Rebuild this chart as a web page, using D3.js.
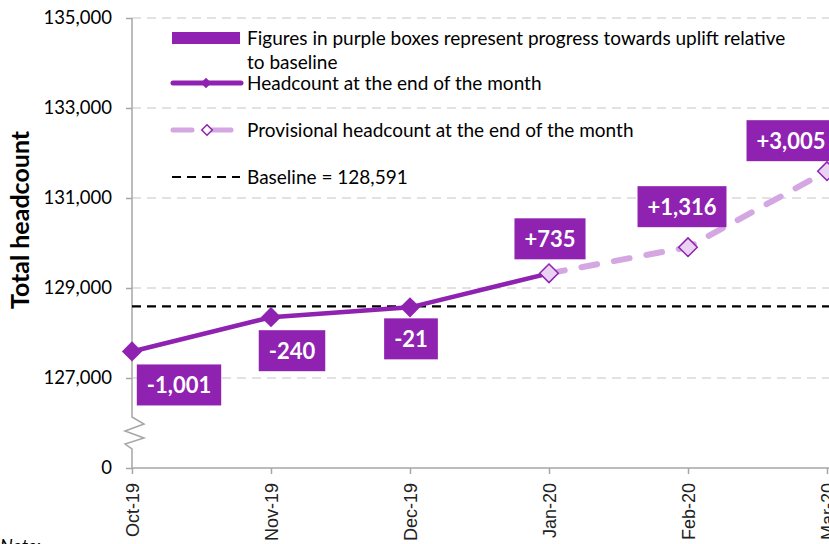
<!DOCTYPE html>
<html>
<head>
<meta charset="utf-8">
<script src="https://cdn.jsdelivr.net/npm/d3@7"></script>
<style>
  body { margin: 0; background: #fff; }
  svg { display: block; font-family: Lato, "Open Sans", sans-serif; }
</style>
</head>
<body>
<div id="chart"></div>
<script>
// data
var months = ["Oct-19", "Nov-19", "Dec-19", "Jan-20", "Feb-20", "Mar-20"];
var headcount = [127590, 128351, 128570, 129326];          // Oct-19 .. Jan-20
var provisional = [129326, 129907, 131596];                // Jan-20 .. Mar-20
var provMonths = ["Jan-20", "Feb-20", "Mar-20"];
var upliftLabels = ["-1,001", "-240", "-21", "+735", "+1,316", "+3,005"];
var baseline = 128591;
var yTicks = [125000, 127000, 129000, 131000, 133000, 135000];

var width = 829, height = 544;
var purple = "#8f22b0", lilac = "#d4a6e2", lilacFill = "#ead3f2";

var svg = d3.select("#chart").append("svg")
  .attr("width", width)
  .attr("height", height);

var x = d3.scalePoint().domain(months).range([132, 827]);
// broken axis: the bottom tick stands for 0
var y = d3.scaleLinear().domain([125000, 135000]).range([468, 18]);

// gridlines
svg.append("g")
  .selectAll("line")
  .data(yTicks.slice(1))
  .enter()
  .append("line")
  .attr("x1", 132).attr("x2", width)
  .attr("y1", function (d) { return y(d); })
  .attr("y2", function (d) { return y(d); })
  .attr("stroke", "#d9d9d9")
  .attr("stroke-width", 1.5)
  .attr("stroke-dasharray", "9,6");

// y axis
var yAxis = svg.append("g")
  .attr("transform", "translate(132,0)")
  .call(d3.axisLeft(y).tickValues(yTicks).tickSize(6).tickPadding(14)
    .tickFormat(function (d) { return d === 125000 ? "0" : d3.format(",")(d); }));
yAxis.select(".domain").remove();
yAxis.selectAll(".tick line").attr("stroke", "#a6a6a6").attr("stroke-width", 1.5);
yAxis.selectAll(".tick text")
  .attr("fill", "#000")
  .style("font-family", "Lato, sans-serif")
  .style("font-size", "18.5px");

// y axis line with a break
var axisPath = d3.line()([[132, 18], [132, 417], [144, 424], [125, 431], [144, 438], [125, 444], [132, 449], [132, 468]]);
svg.append("path")
  .attr("d", axisPath)
  .attr("fill", "none")
  .attr("stroke", "#a6a6a6")
  .attr("stroke-width", 1.5);

// x axis
var xAxis = svg.append("g")
  .attr("transform", "translate(0,468)")
  .call(d3.axisBottom(x).tickSize(6).tickSizeOuter(0));
xAxis.select(".domain").attr("stroke", "#a6a6a6").attr("stroke-width", 1.5)
  .attr("d", "M132,0H" + width);
xAxis.selectAll(".tick line").attr("stroke", "#a6a6a6").attr("stroke-width", 1.5);
xAxis.selectAll(".tick text")
  .attr("fill", "#222")
  .style("font-family", "'Liberation Sans', Arial, sans-serif")
  .style("font-size", "18px")
  .attr("text-anchor", "end")
  .attr("transform", "rotate(-90)")
  .attr("x", -15)
  .attr("y", 0)
  .attr("dy", "0.35em");

// y title
svg.append("text")
  .attr("transform", "translate(29,220) rotate(-90)")
  .attr("text-anchor", "middle")
  .style("font-weight", "bold")
  .style("font-size", "25px")
  .text("Total headcount");

// baseline
svg.append("line")
  .attr("x1", 132).attr("x2", width)
  .attr("y1", y(baseline)).attr("y2", y(baseline))
  .attr("stroke", "#000")
  .attr("stroke-width", 2.2)
  .attr("stroke-dasharray", "9,6");

var line = d3.line()
  .x(function (d) { return x(d.m); })
  .y(function (d) { return y(d.v); });

var actual = headcount.map(function (v, i) { return { m: months[i], v: v }; });
var prov = provisional.map(function (v, i) { return { m: provMonths[i], v: v }; });

// provisional dashed line
svg.append("path")
  .datum(prov)
  .attr("d", line)
  .attr("fill", "none")
  .attr("stroke", lilac)
  .attr("stroke-width", 6)
  .attr("stroke-linecap", "round")
  .attr("stroke-dasharray", "16,17");

// actual line
svg.append("path")
  .datum(actual)
  .attr("d", line)
  .attr("fill", "none")
  .attr("stroke", purple)
  .attr("stroke-width", 4.5);

var diamond = d3.symbol().type(d3.symbolDiamond2);

svg.selectAll(".act")
  .data(actual.slice(0, 3))
  .enter()
  .append("path")
  .attr("d", diamond.size(260))
  .attr("transform", function (d) { return "translate(" + x(d.m) + "," + y(d.v) + ")"; })
  .attr("fill", purple);

svg.selectAll(".prov")
  .data(prov)
  .enter()
  .append("path")
  .attr("d", diamond.size(220))
  .attr("transform", function (d) { return "translate(" + x(d.m) + "," + y(d.v) + ")"; })
  .attr("fill", lilacFill)
  .attr("stroke", purple)
  .attr("stroke-width", 1.5);

// uplift boxes
var allPoints = actual.concat(prov.slice(1));
// box placement relative to the point: [centre dx, top dy] (dy<0 means box above)
var boxPlace = [[47, 13], [21, 13], [1, 11], [1, -55], [-6, -61], [-36, -51]];
var boxes = svg.selectAll(".box")
  .data(allPoints)
  .enter()
  .append("g")
  .attr("transform", function (d, i) {
    return "translate(" + (x(d.m) + boxPlace[i][0]) + "," + (y(d.v) + boxPlace[i][1]) + ")";
  });
boxes.append("rect").attr("fill", purple).attr("height", 41);
boxes.append("text")
  .attr("text-anchor", "middle")
  .attr("y", 21)
  .attr("dy", "0.36em")
  .attr("fill", "#fff")
  .style("font-weight", "bold")
  .style("font-size", "22px")
  .text(function (d, i) { return upliftLabels[i]; });
boxes.each(function () {
  var g = d3.select(this);
  var w = g.select("text").node().getComputedTextLength() + 20;
  g.select("rect").attr("x", -w / 2).attr("width", w);
});

// legend
var leg = svg.append("g").style("font-size", "19px");
leg.append("rect").attr("x", 172).attr("y", 32).attr("width", 68).attr("height", 12).attr("fill", purple);
leg.append("text").attr("x", 247).attr("y", 45).text("Figures in purple boxes represent progress towards uplift relative");
leg.append("text").attr("x", 247).attr("y", 69).text("to baseline");

leg.append("line").attr("x1", 173).attr("x2", 241).attr("y1", 83).attr("y2", 83)
  .attr("stroke", purple).attr("stroke-width", 5).attr("stroke-linecap", "round");
leg.append("path").attr("d", diamond.size(70)).attr("transform", "translate(206,83)").attr("fill", purple);
leg.append("text").attr("x", 247).attr("y", 83).attr("dy", "0.35em").text("Headcount at the end of the month");

leg.append("line").attr("x1", 173).attr("x2", 241).attr("y1", 130).attr("y2", 130)
  .attr("stroke", lilac).attr("stroke-width", 5).attr("stroke-linecap", "round")
  .attr("stroke-dasharray", "19,20");
leg.append("path").attr("d", diamond.size(70)).attr("transform", "translate(207,130)")
  .attr("fill", "#fff").attr("stroke", purple).attr("stroke-width", 1.5);
leg.append("text").attr("x", 247).attr("y", 130).attr("dy", "0.35em").text("Provisional headcount at the end of the month");

leg.append("line").attr("x1", 172).attr("x2", 240).attr("y1", 177).attr("y2", 177)
  .attr("stroke", "#000").attr("stroke-width", 2.2).attr("stroke-dasharray", "9,6");
leg.append("text").attr("x", 247).attr("y", 177).attr("dy", "0.35em").text("Baseline = 128,591");

// note, cut by the bottom edge
svg.append("text")
  .attr("x", 0).attr("y", 552)
  .style("font-style", "italic")
  .style("font-size", "18px")
  .text("Note:");
</script>
</body>
</html>
